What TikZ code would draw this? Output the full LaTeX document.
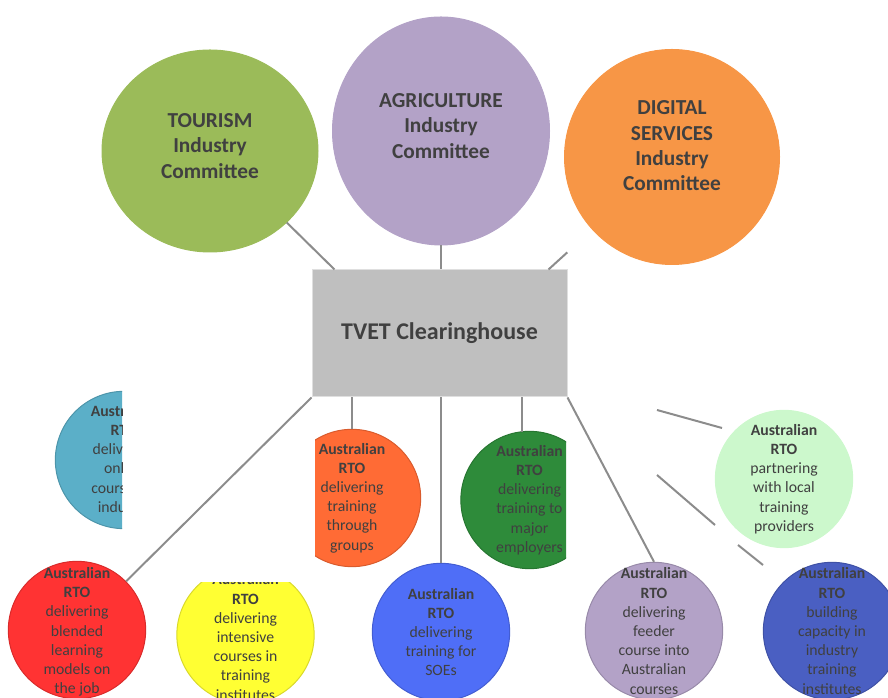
\documentclass[tikz,border=0pt]{standalone}
\usepackage{fontspec}
\setmainfont{Carlito}
\usetikzlibrary{shapes.geometric,calc}

\definecolor{txt}{HTML}{404040}
\definecolor{linkgray}{HTML}{8C8C8C}
\definecolor{tourismgreen}{HTML}{9BBB59}
\definecolor{agripurple}{HTML}{B3A2C7}
\definecolor{digitalorange}{HTML}{F79646}
\definecolor{boxgray}{HTML}{BFBFBF}
\definecolor{rtoteal}{HTML}{5BAFC8}
\definecolor{rtoorange}{HTML}{FF6B35}
\definecolor{rtogreen}{HTML}{2E8B3A}
\definecolor{rtolight}{HTML}{CCF8CC}
\definecolor{rtored}{HTML}{FF3333}
\definecolor{rtoyellow}{HTML}{FFFF33}
\definecolor{rtoblue}{HTML}{4F6EF7}
\definecolor{rtopurple}{HTML}{B3A2C7}
\definecolor{rtonavy}{HTML}{4A5FC2}

\tikzset{every picture/.style={line width=0.75pt}}
\tikzset{
  committee/.style={ellipse, fill=#1, draw=#1, inner sep=0pt},
  comtext/.style={text=txt, font=\fontsize{16}{19}\selectfont\bfseries, align=center, inner sep=0pt},
  rto/.style={circle, fill=#1, draw=#1!85!black, minimum size=103pt, inner sep=0pt},
  rtotext/.style={text=txt, font=\fontsize{11.8}{14.4}\selectfont, align=center, inner sep=0pt},
  link/.style={draw=linkgray, line width=1.5pt}
}

\begin{document}
\begin{tikzpicture}[x=0.75pt,y=0.75pt]
		%\draw [help lines] (0,0) grid[step=50] (888,698);
		\useasboundingbox (0,0) rectangle (888,698);

		% committees
		\node[committee=tourismgreen, minimum width=162pt, minimum height=151.5pt] (tourism) at (210,547) {};
		\node[comtext] (tourismtxt) at ($(tourism)+(0,5)$) {TOURISM\\Industry\\Committee};
		\node[committee=agripurple, minimum width=162.75pt, minimum height=171pt] (agri) at (441,567) {};
		\node[comtext] (agritxt) at ($(agri)+(0,5)$) {AGRICULTURE\\Industry\\Committee};
		\node[committee=digitalorange, minimum width=161.25pt, minimum height=161.25pt] (digital) at (672,541) {};
		\node[comtext] (digitaltxt) at ($(digital)+(0,11)$) {DIGITAL\\SERVICES\\Industry\\Committee};

		\node[rectangle, fill=boxgray, draw=gray!25, minimum width=191.25pt, minimum height=95.25pt, text=txt,
			font=\fontsize{18}{21}\selectfont\bfseries] (box) at (439.5,364.5) {TVET Clearinghouse};

		% links to the committees
		\draw[link] (tourism.-43) -- ($(box.north west)+(23,0)$);
		\draw[link] (agri.south) -- (agri.south |- box.north);
		\coordinate (b3) at ($(box.north east)+(-19,0)$);
		\coordinate (dend) at ($(b3)!19pt!(digital)$);
		\draw[link] (b3) -- (dend);

		% RTO circles
		\begin{scope}
			\clip (0,0) rectangle (122,698);
			\node[rto=rtoteal] (teal) at (124,238) {};
			\node[rtotext] (tealtxt) at (teal) {\textbf{Australian}\\\textbf{RTO}\\delivering\\online\\courses to\\industry};
		\end{scope}
		\begin{scope}
			\clip (315,0) rectangle (888,698);
			\node[rto=rtoorange] (orange) at (352,200) {};
			\node[rtotext] (orangetxt) at (orange) {\textbf{Australian}\\\textbf{RTO}\\delivering\\training\\through\\groups};
		\end{scope}
		\begin{scope}
			\clip (0,0) rectangle (566,698);
			\node[rto=rtogreen] (green) at (529.5,198) {};
			\node[rtotext] (greentxt) at (green) {\textbf{Australian}\\\textbf{RTO}\\delivering\\training to\\major\\employers};
		\end{scope}
		\node[rto=rtolight, draw=rtolight] (partner) at (784,219) {};
		\node[rtotext] (partnertxt) at (partner) {\textbf{Australian}\\\textbf{RTO}\\partnering\\with local\\training\\providers};

		\node[rto=rtored] (red) at (77,68) {};
		\node[rtotext] (redtxt) at ($(red)+(0,-2)$) {\textbf{Australian}\\\textbf{RTO}\\delivering\\blended\\learning\\models on\\the job};
		\begin{scope}
			\clip (0,0) rectangle (888,115);
			\node[rto=rtoyellow] (yellow) at (245.5,63) {};
			\node[rtotext] (yellowtxt) at ($(yellow)+(0,-2)$) {\textbf{Australian}\\\textbf{RTO}\\delivering\\intensive\\courses in\\training\\institutes};
		\end{scope}
		\node[rto=rtoblue] (soe) at (441,66) {};
		\node[rtotext] (soetxt) at (soe) {\textbf{Australian}\\\textbf{RTO}\\delivering\\training for\\SOEs};
		\node[rto=rtopurple] (purple) at (654,67) {};
		\node[rtotext] (purpletxt) at (purple) {\textbf{Australian}\\\textbf{RTO}\\delivering\\feeder\\course into\\Australian\\courses};
		\node[rto=rtonavy] (navy) at (832,67) {};
		\node[rtotext] (navytxt) at (navy) {\textbf{Australian}\\\textbf{RTO}\\building\\capacity in\\industry\\training\\institutes};

		% links to the RTOs
		\draw[link] (box.south west) -- (red);
		\draw[link] (orange |- box.south) -- (orange.north);
		\draw[link] (soe |- box.south) -- (soe.north);
		\coordinate (gtop) at ($(green.north)+(-8,-1)$);
		\draw[link] (gtop |- box.south) -- (gtop);
		\draw[link] (box.south east) -- (purple.north);
		\coordinate (lg0) at (657,288);
		\coordinate (lg1) at (722,270);
		\draw[link] (lg0) -- (lg1);
		\coordinate (nv0) at (657,223);
		\coordinate (nv1) at (715,173);
		\coordinate (nv2) at (738,153);
		\coordinate (nv3) at (763,133);
		\draw[link] (nv0) -- (nv1);
		\draw[link] (nv2) -- (nv3);
	\end{tikzpicture}
\end{document}
